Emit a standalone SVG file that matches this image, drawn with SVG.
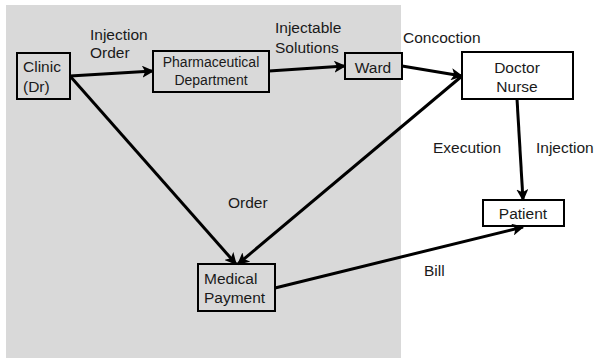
<svg xmlns="http://www.w3.org/2000/svg" width="595" height="359" viewBox="0 0 595 359">
<defs>
<marker id="ah" viewBox="0 0 10 10" refX="9" refY="5" markerWidth="4" markerHeight="4" orient="auto" markerUnits="strokeWidth">
<path d="M0,0 L10,5 L0,10 L2.5,5 z" fill="#000"/>
</marker>
</defs>
<style>
text{font-family:"Liberation Sans",Arial,sans-serif;font-size:15.5px;fill:#1a1a1a}
.box{fill:none;stroke:#000;stroke-width:2}
.wbox{fill:#fff;stroke:#000;stroke-width:2}
.c{text-anchor:middle}
.small{font-size:14px}
.conn line{stroke:#000;stroke-width:3;marker-end:url(#ah)}
</style>
<rect x="6" y="5" width="395" height="353" fill="#d9d9d9"/>
<g id="clinic"><rect class="box" x="17" y="53" width="53" height="46"/><text x="23" y="72">Clinic</text><text x="23" y="92">(Dr)</text></g>
<g id="pharma"><rect class="box" x="153" y="51" width="116" height="41"/><text class="c small" x="211" y="67">Pharmaceutical</text><text class="c small" x="211" y="85">Department</text></g>
<g id="ward"><rect class="box" x="345" y="53" width="57" height="26"/><text class="c" x="373" y="73">Ward</text></g>
<g id="doctor"><rect class="wbox" x="462" y="52" width="111" height="47"/><text class="c" x="517" y="73">Doctor</text><text class="c" x="517" y="92">Nurse</text></g>
<g id="payment"><rect class="box" x="198" y="264" width="77" height="47"/><text x="204" y="284">Medical</text><text x="204" y="303">Payment</text></g>
<g id="patient"><rect class="wbox" x="483" y="200" width="81" height="26"/><text class="c" x="523" y="219">Patient</text></g>
<g class="conn">
<line x1="70" y1="76" x2="153" y2="71"/>
<line x1="269" y1="71" x2="345" y2="66"/>
<line x1="402" y1="66" x2="462" y2="76"/>
<line x1="462" y1="76" x2="238" y2="264"/>
<line x1="70" y1="76" x2="236" y2="264"/>
<line x1="517" y1="99" x2="523" y2="200"/>
<line x1="275" y1="288" x2="523" y2="227"/>
</g>
<g id="labels">
<text x="90" y="40">Injection</text><text x="90" y="58">Order</text>
<text x="275" y="33">Injectable</text><text x="275" y="53">Solutions</text>
<text x="403" y="43">Concoction</text>
<text x="433" y="153">Execution</text>
<text x="536" y="153">Injection</text>
<text x="228" y="208">Order</text>
<text x="424" y="276">Bill</text>
</g>
</svg>
